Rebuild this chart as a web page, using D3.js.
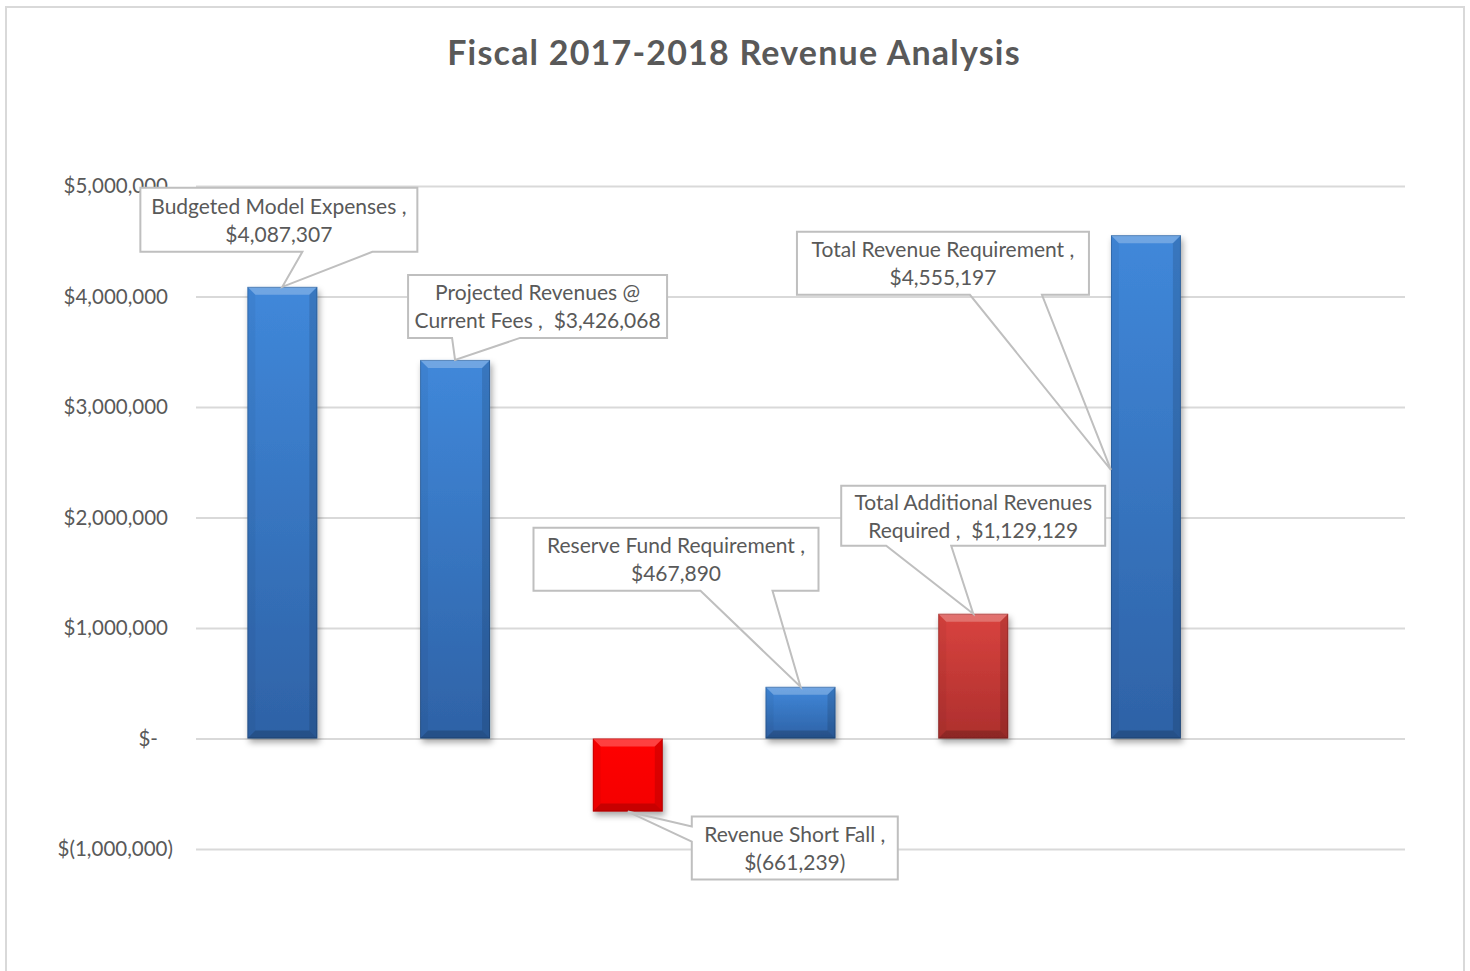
<!DOCTYPE html>
<html>
<head>
<meta charset="utf-8">
<script src="https://cdn.jsdelivr.net/npm/d3@7/dist/d3.min.js"></script>
<style>
  html, body { margin: 0; padding: 0; background: #fff; }
  svg { display: block; font-family: Lato, "Open Sans", sans-serif; }
</style>
</head>
<body>
<svg id="chart" width="1470" height="971"></svg>
<script>
// ---- data ----
const categories = [
  "Budgeted Model Expenses",
  "Projected Revenues @ Current Fees",
  "Revenue Short Fall",
  "Reserve Fund Requirement",
  "Total Additional Revenues Required",
  "Total Revenue Requirement"
];
const values = [4087307, 3426068, -661239, 467890, 1129129, 4555197];
// callout text; {v} is replaced by the formatted value
const calloutText = [
  ["Budgeted Model Expenses ,", "{v}"],
  ["Projected Revenues @", "Current Fees ,  {v}"],
  ["Revenue Short Fall ,", "{v}"],
  ["Reserve Fund Requirement ,", "{v}"],
  ["Total Additional Revenues", "Required ,  {v}"],
  ["Total Revenue Requirement ,", "{v}"]
];
const yTicks = [-1000000, 0, 1000000, 2000000, 3000000, 4000000, 5000000];
const title = "Fiscal 2017-2018 Revenue Analysis";

// ---- styles ----
const palette = {
  blue:    { top: "#4088da", bottom: "#2e62a6" },
  red:     { top: "#ff0606", bottom: "#f40000" },
  darkred: { top: "#d9433f", bottom: "#ad2f2d" }
};
const barKinds = ["blue", "blue", "red", "blue", "darkred", "blue"];

// callout geometry, offsets from the anchor point on each bar
// box: [x0, y0, x1, y1]; base: where the pointer leaves the box
const calloutLayout = [
  { anchor: "end",  box: [-142, -99, 135, -35], side: "bottom", base: [20, 90] },
  { anchor: "end",  box: [-47, -85, 212, -22],  side: "bottom", base: [-3, 65] },
  { anchor: "end",  box: [64, 5, 270, 68],      side: "left",   base: [15, 30] },
  { anchor: "end",  box: [-267, -159, 18, -96], side: "bottom", base: [-100, -28] },
  { anchor: "end",  box: [-132, -128, 132, -68], side: "bottom", base: [-87, -22] },
  { anchor: "side", box: [-314, -238, -22, -175], side: "bottom", base: [-141, -69] }
];

const accounting = v => {
  if (v === 0) return "$-";
  const s = d3.format(",")(Math.abs(v));
  return v < 0 ? "$(" + s + ")" : "$" + s;
};

const svg = d3.select("#chart");
const plot = { left: 196, right: 1405 };

// outer chart frame
svg.append("rect")
  .attr("x", 6).attr("y", 7).attr("width", 1458).attr("height", 990)
  .attr("fill", "#fff").attr("stroke", "#d9d9d9").attr("stroke-width", 2);

svg.append("text")
  .attr("x", 734).attr("y", 65)
  .attr("text-anchor", "middle")
  .attr("font-size", 34).attr("font-weight", 700)
  .attr("letter-spacing", 1.2)
  .attr("fill", "#595959")
  .text(title);

// seven category slots; the last one stays empty
const slots = d3.range(categories.length + 1);
const x = d3.scaleBand().domain(slots).range([plot.left, plot.right])
  .paddingInner(0.595).paddingOuter(0.2975);
const y = d3.scaleLinear().domain([-1000000, 5000000]).range([849, 186]);

// gridlines and tick labels
const yAxis = d3.axisLeft(y).tickValues(yTicks)
  .tickSize(-(plot.right - plot.left)).tickPadding(23)
  .tickFormat(accounting);
const gAxis = svg.append("g").attr("transform", `translate(${plot.left},0)`).call(yAxis);
gAxis.select(".domain").remove();
gAxis.selectAll(".tick line").attr("stroke", "#d9d9d9").attr("stroke-width", 2);
gAxis.selectAll(".tick text")
  .attr("fill", "#595959").attr("font-size", 20.5)
  .attr("font-family", "Lato, sans-serif")
  .attr("dx", d => d > 0 ? -5 : (d === 0 ? -15 : 0));

// bar gradients and shadow
const defs = svg.append("defs");
Object.entries(palette).forEach(([k, c]) => {
  const g = defs.append("linearGradient").attr("id", "grad-" + k)
    .attr("x1", 0).attr("y1", 0).attr("x2", 0).attr("y2", 1);
  g.append("stop").attr("offset", "0%").attr("stop-color", c.top);
  g.append("stop").attr("offset", "100%").attr("stop-color", c.bottom);
});
const f = defs.append("filter").attr("id", "shadow")
  .attr("x", "-20%").attr("y", "-20%").attr("width", "140%").attr("height", "140%");
f.append("feDropShadow").attr("dx", 2).attr("dy", 4).attr("stdDeviation", 3)
  .attr("flood-color", "#000").attr("flood-opacity", 0.35);

const bars = values.map((v, i) => {
  const x0 = x(i), x1 = x(i) + x.bandwidth();
  const y0 = Math.min(y(v), y(0)), y1 = Math.max(y(v), y(0));
  return { i, v, x0, x1, y0, y1 };
});

const gBars = svg.append("g");
bars.forEach(b => {
  const g = gBars.append("g");
  g.append("rect")
    .attr("x", b.x0).attr("y", b.y0)
    .attr("width", b.x1 - b.x0).attr("height", b.y1 - b.y0)
    .attr("fill", `url(#grad-${barKinds[b.i]})`)
    .attr("filter", "url(#shadow)");
  const e = 8;
  const bevel = [
    { pts: [[b.x0, b.y0], [b.x1, b.y0], [b.x1 - e, b.y0 + e], [b.x0 + e, b.y0 + e]], fill: "#fff", op: 0.25 },
    { pts: [[b.x0, b.y1], [b.x1, b.y1], [b.x1 - e, b.y1 - e], [b.x0 + e, b.y1 - e]], fill: "#000", op: 0.18 },
    { pts: [[b.x0, b.y0], [b.x0 + e, b.y0 + e], [b.x0 + e, b.y1 - e], [b.x0, b.y1]], fill: "#000", op: 0.04 },
    { pts: [[b.x1, b.y0], [b.x1 - e, b.y0 + e], [b.x1 - e, b.y1 - e], [b.x1, b.y1]], fill: "#000", op: 0.12 }
  ];
  bevel.forEach(p => g.append("polygon")
    .attr("points", p.pts.map(q => q.join(",")).join(" "))
    .attr("fill", p.fill).attr("fill-opacity", p.op));
  g.append("rect")
    .attr("x", b.x0 + 0.5).attr("y", b.y0 + 0.5)
    .attr("width", b.x1 - b.x0 - 1).attr("height", b.y1 - b.y0 - 1)
    .attr("fill", "none").attr("stroke", "#000").attr("stroke-opacity", 0.18);
});

// callouts
const gCall = svg.append("g");
bars.forEach(b => {
  const L = calloutLayout[b.i];
  let ax, ay;
  if (L.anchor === "end") {
    ax = (b.x0 + b.x1) / 2;
    ay = y(b.v);
  } else {
    ax = b.x0;
    ay = (y(b.v) + y(0)) / 2 - 17;
  }
  const [bx0, by0, bx1, by1] = [ax + L.box[0], ay + L.box[1], ax + L.box[2], ay + L.box[3]];
  gCall.append("rect")
    .attr("x", bx0).attr("y", by0).attr("width", bx1 - bx0).attr("height", by1 - by0)
    .attr("fill", "#fff");
  let path;
  if (L.side === "bottom") {
    const p1 = ax + L.base[0], p2 = ax + L.base[1];
    path = `M${bx0},${by0}H${bx1}V${by1}H${p2}L${ax},${ay}L${p1},${by1}H${bx0}Z`;
  } else {
    const p1 = ay + L.base[0], p2 = ay + L.base[1];
    path = `M${bx0},${by0}H${bx1}V${by1}H${bx0}V${p2}L${ax},${ay}L${bx0},${p1}Z`;
  }
  gCall.append("path").attr("d", path)
    .attr("fill", "none").attr("stroke", "#bfbfbf").attr("stroke-width", 2)
    .attr("stroke-linejoin", "miter");
  const cx = (bx0 + bx1) / 2, cy = (by0 + by1) / 2;
  const lines = calloutText[b.i].map(s => s.replace("{v}", accounting(b.v)));
  lines.forEach((s, k) => {
    gCall.append("text")
      .attr("x", cx).attr("y", cy + (k === 0 ? -14 : 14) + 8)
      .attr("text-anchor", "middle")
      .attr("font-size", 21).attr("fill", "#595959")
      .style("white-space", "pre")
      .text(s);
  });
});
</script>
</body>
</html>
